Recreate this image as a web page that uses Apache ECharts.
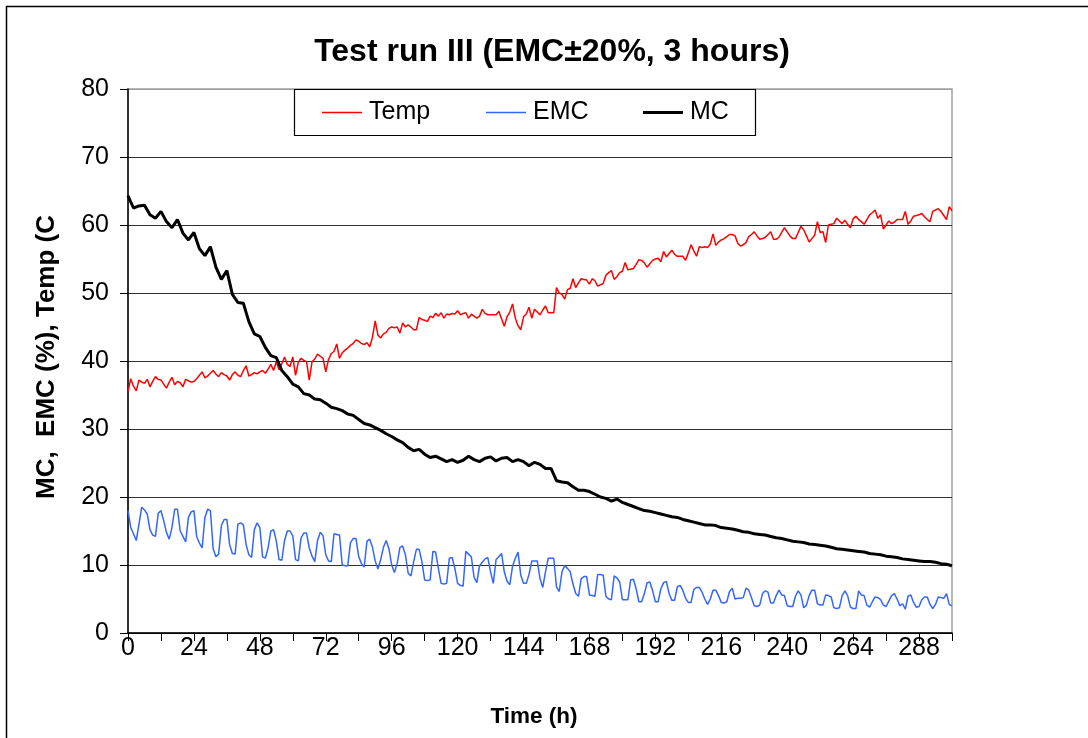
<!DOCTYPE html>
<html>
<head>
<meta charset="utf-8">
<script src="https://cdn.jsdelivr.net/npm/echarts@6/dist/echarts.min.js"></script>
<style>
  html, body { margin: 0; padding: 0; background: #fff; }
  #chart { width: 1088px; height: 738px; }
</style>
</head>
<body>
<div id="chart"></div>
<script>
// hours between readings
const tempStep = 1;
const emcStep = 1;
const mcStep = 2;

// Temp (C), hourly from 0 h
const temp = [
  35.5, 37.4, 36.3, 35.6, 37.2, 36.9, 36.7, 37.3, 36.2, 37.0, 37.7, 37.3,
  37.2, 36.6, 36.0, 36.9, 37.6, 36.5, 37.0, 36.8, 36.2, 37.3, 37.1, 36.9,
  37.0, 37.4, 37.9, 38.4, 37.5, 37.8, 38.2, 38.6, 38.1, 37.7, 38.3, 38.0,
  37.8, 37.2, 38.0, 38.4, 37.9, 37.7, 38.6, 39.3, 37.8, 38.0, 38.3, 38.1,
  38.4, 38.6, 38.2, 38.8, 39.5, 38.6, 39.9, 38.7, 39.6, 40.6, 39.5, 39.2,
  40.6, 37.9, 39.8, 40.4, 40.1, 39.9, 37.2, 39.9, 40.3, 41.0, 40.7, 40.4,
  38.4, 40.2, 41.1, 41.4, 42.5, 40.4, 41.2, 41.6, 41.9, 42.3, 42.6, 43.1,
  42.9, 42.6, 42.4, 42.7, 42.1, 43.5, 45.9, 43.8, 43.4, 44.0, 44.2, 44.8,
  45.0, 44.9, 45.0, 44.1, 45.6, 45.0, 45.3, 45.0, 44.6, 44.6, 46.4, 46.1,
  46.0, 45.8, 46.6, 46.4, 47.0, 46.6, 47.1, 46.3, 46.9, 46.8, 47.0, 46.9,
  47.4, 46.8, 47.0, 47.1, 46.3, 46.9, 46.6, 46.3, 46.6, 47.6, 47.0, 46.8,
  46.8, 46.8, 46.8, 47.3, 46.2, 45.1, 46.5, 47.2, 48.4, 46.3, 45.2, 44.6,
  46.5, 46.9, 47.9, 46.3, 47.6, 47.2, 46.8, 47.5, 48.1, 47.1, 47.1, 47.1,
  50.8, 50.0, 49.8, 49.1, 50.5, 50.7, 52.1, 50.8, 51.5, 52.1, 52.0, 51.9,
  51.3, 52.1, 51.8, 51.0, 51.2, 51.4, 52.6, 53.0, 53.3, 52.0, 52.4, 53.0,
  53.2, 54.5, 53.4, 53.5, 53.6, 54.2, 54.9, 54.8, 54.4, 53.8, 54.3, 54.8,
  55.0, 55.1, 54.6, 56.1, 55.3, 55.8, 56.3, 55.7, 55.4, 55.4, 55.4, 54.8,
  55.9, 57.1, 56.2, 55.4, 56.8, 56.7, 56.8, 56.7, 57.2, 58.7, 57.0, 57.5,
  57.8, 58.0, 58.3, 58.6, 58.6, 58.4, 57.3, 56.9, 57.1, 57.4, 58.3, 58.6,
  59.0, 58.4, 57.9, 58.0, 58.2, 58.6, 59.0, 57.9, 57.9, 58.2, 58.9, 59.6,
  59.0, 58.4, 58.0, 58.0, 58.9, 59.8, 59.3, 58.4, 57.5, 58.0, 58.5, 60.5,
  58.9, 59.0, 57.4, 60.0, 60.1, 60.2, 61.0, 60.6, 60.2, 60.7, 60.1, 59.6,
  60.9, 61.3, 60.8, 60.5, 60.1, 60.8, 61.5, 61.8, 62.2, 61.0, 61.5, 59.4,
  60.0, 60.6, 60.2, 60.4, 60.8, 60.8, 60.8, 62.0, 60.1, 60.6, 61.3, 61.4,
  61.5, 61.7, 61.2, 60.8, 60.5, 62.0, 62.2, 62.4, 62.0, 61.4, 60.8, 62.7,
  62.1
];

// EMC (%), hourly from 0 h
const emc = [
  18.0, 15.5, 14.6, 13.6, 16.0, 18.5, 18.1, 17.5, 15.2, 14.4, 14.2, 17.6,
  18.0, 16.5, 14.8, 13.8, 15.5, 18.2, 18.2, 15.0, 14.2, 13.4, 17.0, 17.8,
  18.0, 14.2, 13.2, 12.5, 17.0, 18.2, 18.0, 12.4, 11.2, 11.6, 15.8, 16.7,
  16.7, 13.0, 11.7, 11.6, 16.0, 16.2, 15.9, 13.0, 11.5, 11.1, 15.2, 16.2,
  15.5, 11.2, 11.0, 12.5, 15.0, 15.2, 13.5, 10.8, 10.7, 13.6, 15.0, 15.0,
  14.3, 10.8, 10.6, 14.0, 14.7, 14.7, 12.5, 11.3, 10.5, 13.6, 14.8, 14.3,
  11.5, 10.6, 10.5, 14.6, 14.5, 14.4, 10.0, 9.9, 9.9, 13.3, 13.9, 13.9,
  11.2, 10.2, 9.7, 13.5, 13.8, 12.6, 10.6, 9.4, 10.8, 12.6, 13.6, 12.4,
  10.0, 8.9, 10.2, 12.6, 12.8, 11.5, 8.8, 8.4, 10.5, 12.3, 12.3, 10.5,
  7.8, 7.7, 7.8, 12.0, 11.9, 9.5, 7.3, 7.2, 7.3, 11.0, 11.1, 9.5,
  7.3, 7.0, 6.9, 12.0, 11.6, 11.2, 8.2, 7.4, 9.9, 10.4, 10.9, 11.1,
  9.0, 7.3, 10.8, 11.2, 11.7, 9.0, 7.6, 7.1, 9.8, 11.0, 11.9, 8.5,
  7.3, 7.3, 8.6, 10.6, 10.6, 10.6, 8.0, 6.7, 9.0, 11.0, 11.0, 11.0,
  6.8, 6.1, 9.0, 9.9, 9.5, 9.0, 7.2, 5.8, 5.4, 8.0, 8.3, 8.3,
  5.6, 5.5, 5.4, 8.6, 8.6, 8.5, 5.4, 5.0, 4.9, 8.4, 8.1, 7.5,
  4.9, 4.9, 4.9, 7.8, 7.9, 6.5, 4.6, 4.6, 5.8, 7.4, 7.5, 6.2,
  4.6, 4.6, 6.5, 7.4, 7.6, 5.8, 4.8, 4.8, 6.8, 7.0, 6.3, 5.1,
  4.5, 4.5, 6.4, 6.7, 6.7, 6.0, 5.0, 4.2, 5.0, 6.3, 6.3, 5.5,
  4.5, 4.4, 4.6, 6.1, 6.6, 5.0, 5.1, 5.1, 5.2, 6.6, 6.3, 5.2,
  4.0, 3.9, 4.1, 5.8, 6.2, 6.0, 4.4, 4.4, 5.5, 6.3, 5.6, 5.5,
  4.0, 3.9, 3.9, 5.4, 6.2, 5.6, 3.7, 4.1, 5.5, 6.3, 6.3, 4.3,
  4.1, 4.1, 5.6, 5.5, 5.3, 3.7, 3.6, 3.7, 5.5, 6.2, 5.5, 3.8,
  3.6, 3.6, 6.2, 5.6, 5.5, 4.1, 3.8, 4.6, 5.3, 5.2, 4.9, 4.1,
  3.9, 4.7, 5.5, 5.8, 5.0, 4.0, 4.3, 3.5, 5.4, 5.6, 4.5, 3.8,
  3.9, 4.9, 5.3, 5.3, 4.2, 3.6, 4.2, 5.3, 5.2, 5.1, 5.8, 4.2,
  4.0
];

// MC (%), every 2 h from 0 h
const mc = [
  64.3, 62.5, 62.8, 62.9, 61.5, 61.0, 62.0, 60.5, 59.6, 60.8,
  58.8, 57.8, 58.9, 56.5, 55.5, 56.8, 53.8, 52.0, 53.3, 49.8,
  48.6, 48.5, 45.8, 44.0, 43.6, 42.0, 40.8, 40.5, 38.6, 37.7,
  36.6, 36.2, 35.2, 35.0, 34.4, 34.3, 33.8, 33.2, 33.0, 32.7,
  32.2, 32.0, 31.4, 30.8, 30.6, 30.2, 29.8, 29.3, 28.9, 28.4,
  28.0, 27.3, 26.8, 27.0, 26.3, 25.8, 26.0, 25.6, 25.2, 25.5,
  25.1, 25.4, 26.0, 25.5, 25.2, 25.7, 25.9, 25.3, 25.7, 25.8,
  25.2, 25.5, 25.2, 24.6, 25.1, 24.8, 24.2, 24.2, 22.4, 22.2,
  22.1, 21.5, 21.0, 21.0, 20.8, 20.4, 20.0, 19.8, 19.4, 19.7,
  19.2, 18.9, 18.6, 18.3, 18.0, 17.9, 17.7, 17.5, 17.3, 17.1,
  17.0, 16.7, 16.5, 16.3, 16.1, 15.9, 15.9, 15.8, 15.5, 15.4,
  15.3, 15.1, 14.9, 14.8, 14.6, 14.5, 14.4, 14.2, 14.0, 13.9,
  13.7, 13.5, 13.4, 13.3, 13.1, 13.0, 12.9, 12.8, 12.6, 12.4,
  12.3, 12.2, 12.1, 12.0, 11.9, 11.7, 11.6, 11.5, 11.3, 11.2,
  11.1, 10.9, 10.8, 10.7, 10.6, 10.5, 10.5, 10.4, 10.2, 10.1,
  9.9
];

const xTicks = { min: 0, max: 300, step: 12, labelEvery: 24 };
const yTicks = { min: 0, max: 80, step: 10 };

const font = "'Liberation Sans', Arial, sans-serif";

const toPairs = (arr, step) => arr.map((v, i) => [i * step, v]);

const chart = echarts.init(document.getElementById('chart'));

chart.setOption({
  backgroundColor: '#fff',
  animation: false,
  textStyle: { fontFamily: font },
  title: {
    text: 'Test run III (EMC\u00b120%, 3 hours)',
    left: 547,
    top: 31,
    textAlign: 'center',
    textStyle: { fontSize: 32, fontWeight: 'bold', color: '#000', fontFamily: font }
  },
  grid: {
    left: 128,
    right: 136,
    top: 89,
    bottom: 105,
    show: true,
    borderColor: '#a0a0a0',
    borderWidth: 1.5,
    backgroundColor: '#fff'
  },
  // one legend per entry so the gaps match the original box
  legend: [
    { name: 'Temp', left: 322, h: 1.5 },
    { name: 'EMC', left: 486, h: 1.5 },
    { name: 'MC', left: 643, h: 3 }
  ].map(l => ({
    data: [l.name],
    left: l.left,
    top: 100,
    z: 8,
    icon: 'rect',
    itemWidth: 40,
    itemHeight: l.h,
    itemGap: 0,
    padding: 0,
    textStyle: { fontSize: 25, color: '#000', fontFamily: font, padding: [0, 0, 0, 2] }
  })),
  xAxis: {
    type: 'value',
    min: xTicks.min,
    max: xTicks.max,
    interval: xTicks.step,
    axisLine: { show: true, lineStyle: { color: '#000', width: 1.5 } },
    axisTick: { show: true, inside: false, length: 8, lineStyle: { color: '#000' } },
    splitLine: { show: false },
    axisLabel: {
      margin: 3,
      fontSize: 25,
      color: '#000',
      fontFamily: font,
      formatter: v => (v % xTicks.labelEvery === 0 ? String(v) : '')
    }
  },
  yAxis: {
    type: 'value',
    min: yTicks.min,
    max: yTicks.max,
    interval: yTicks.step,
    axisLine: { show: true, lineStyle: { color: '#000', width: 1.5 } },
    axisTick: { show: true, inside: false, length: 8, lineStyle: { color: '#000' } },
    splitLine: {
      show: true,
      lineStyle: {
        color: ['#000', '#303030', '#303030', '#303030', '#303030', '#303030', '#303030', '#303030', '#a0a0a0'],
        width: 1.2
      }
    },
    axisLabel: { margin: 19, fontSize: 25, color: '#000', fontFamily: font }
  },
  series: [
    {
      name: 'Temp',
      type: 'line',
      data: toPairs(temp, tempStep),
      symbol: 'none',
      lineStyle: { color: '#ff0000', width: 1.5 },
      itemStyle: { color: '#ff0000' },
      z: 3
    },
    {
      name: 'EMC',
      type: 'line',
      data: toPairs(emc, emcStep),
      symbol: 'none',
      lineStyle: { color: '#3366ff', width: 1.5 },
      itemStyle: { color: '#3366ff' },
      z: 3
    },
    {
      name: 'MC',
      type: 'line',
      data: toPairs(mc, mcStep),
      symbol: 'none',
      lineStyle: { color: '#000', width: 3 },
      itemStyle: { color: '#000' },
      z: 4
    }
  ],
  graphic: [
    // outer chart frame
    {
      type: 'rect',
      shape: { x: 6.5, y: 6.5, width: 1200, height: 900 },
      style: { fill: null, stroke: '#000', lineWidth: 1.5 },
      silent: true,
      z: 10
    },
    // legend box
    {
      type: 'rect',
      shape: { x: 294.5, y: 89.5, width: 461, height: 46 },
      style: { fill: '#fff', stroke: '#000', lineWidth: 1.2 },
      silent: true,
      z: 6
    },
    {
      type: 'text',
      x: 47,
      y: 357,
      rotation: Math.PI / 2,
      style: {
        text: 'MC,  EMC (%), Temp (C',
        font: 'bold 26px ' + font,
        fill: '#000',
        align: 'center',
        verticalAlign: 'middle'
      },
      silent: true
    },
    {
      type: 'text',
      x: 534,
      y: 717,
      style: {
        text: 'Time (h)',
        font: 'bold 22.5px ' + font,
        fill: '#000',
        align: 'center',
        verticalAlign: 'middle'
      },
      silent: true
    }
  ]
});
</script>
</body>
</html>
